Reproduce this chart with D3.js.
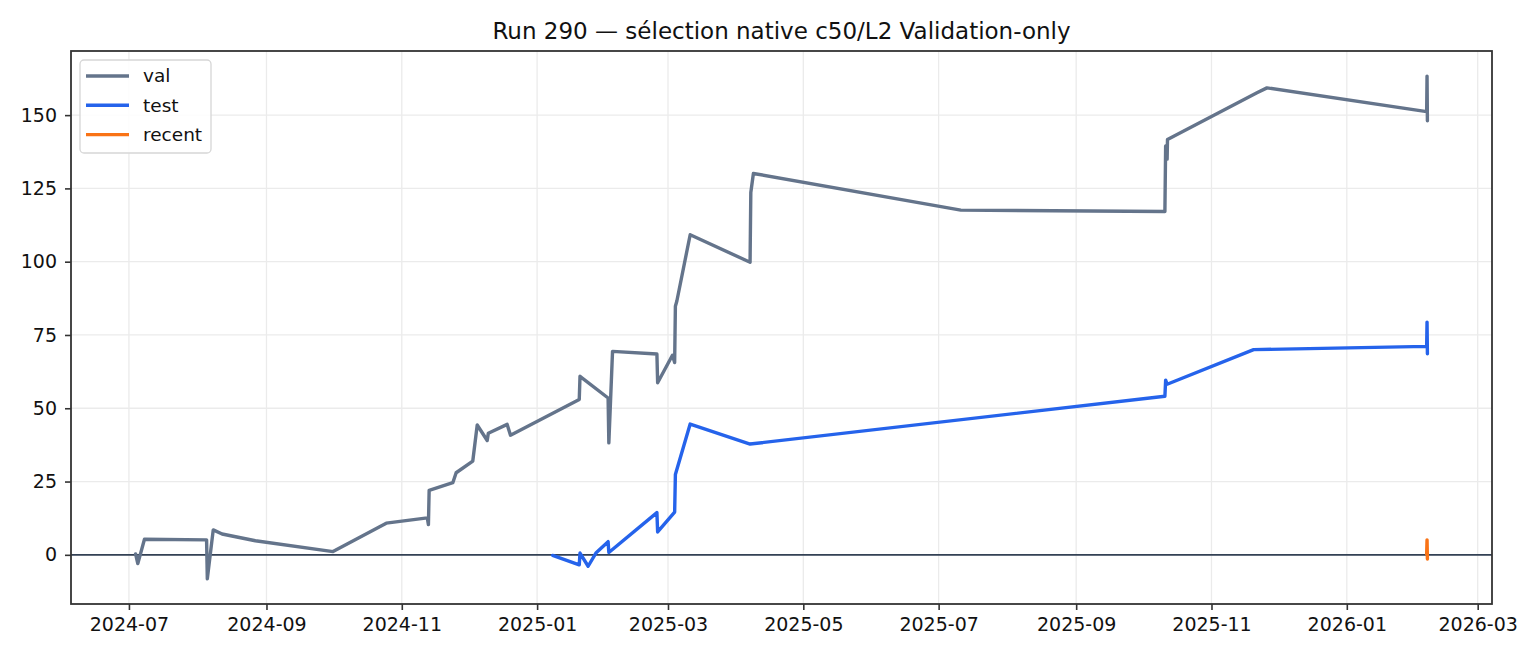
<!DOCTYPE html>
<html>
<head>
<meta charset="utf-8">
<script src="https://cdn.jsdelivr.net/npm/d3@7"></script>
<style>
  body { margin: 0; background: #fff; }
  svg { font-family: "DejaVu Sans", sans-serif; }
</style>
</head>
<body>
<svg id="chart"></svg>
<script>
// values
const valDates = [
  "2024-07-04T00:00", "2024-07-05T00:00", "2024-07-08T00:00", "2024-08-05T00:00", "2024-08-05T08:00",
  "2024-08-08T00:00", "2024-08-12T00:00", "2024-08-27T00:00", "2024-10-01T00:00", "2024-10-25T00:00",
  "2024-11-12T12:00", "2024-11-13T00:00", "2024-11-13T08:00", "2024-11-24T00:00", "2024-11-25T12:00",
  "2024-12-03T00:00", "2024-12-05T00:00", "2024-12-09T12:00", "2024-12-10T00:00", "2024-12-18T12:00",
  "2024-12-20T00:00", "2025-01-20T00:00", "2025-01-20T08:00", "2025-02-02T00:00", "2025-02-02T08:00",
  "2025-02-04T00:00", "2025-02-24T00:00", "2025-02-24T08:00", "2025-03-03T00:00", "2025-03-04T00:00",
  "2025-03-04T08:00", "2025-03-05T00:00", "2025-03-11T00:00", "2025-04-07T00:00", "2025-04-07T08:00",
  "2025-04-08T12:00", "2025-07-11T00:00", "2025-10-11T00:00", "2025-10-11T08:00", "2025-10-12T00:00",
  "2025-10-12T04:00", "2025-11-21T12:00", "2025-11-26T00:00", "2026-02-06T00:00", "2026-02-06T04:00",
  "2026-02-06T08:00"
];
const valValues = [
  0.3, -3.0, 5.3, 5.1, -8.2,
  8.5, 7.1, 4.8, 1.1, 10.8,
  12.6, 10.3, 22.0, 24.6, 28.0,
  32.0, 44.3, 39.0, 41.5, 44.5,
  40.8, 53.0, 60.9, 53.5, 38.2,
  69.4, 68.5, 58.7, 68.1, 65.6,
  84.8, 86.6, 109.2, 99.8, 123.6,
  130.1, 117.6, 117.1, 139.5, 135.0,
  141.7, 157.6, 159.3, 151.2, 163.3,
  148.1
];

const testDates = [
  "2025-01-08T00:00", "2025-01-20T00:00", "2025-01-20T08:00", "2025-01-24T00:00", "2025-01-27T12:00",
  "2025-02-02T00:00", "2025-02-02T08:00", "2025-02-24T00:00", "2025-02-24T08:00", "2025-03-04T00:00",
  "2025-03-04T08:00", "2025-03-11T00:00", "2025-04-07T00:00", "2025-10-11T00:00", "2025-10-11T08:00",
  "2025-10-12T00:00", "2025-11-20T00:00", "2026-02-06T00:00", "2026-02-06T04:00", "2026-02-06T08:00"
];
const testValues = [
  -0.2, -3.4, 0.6, -3.9, 0.6,
  4.5, 0.8, 14.4, 7.8, 14.6,
  27.4, 44.6, 37.8, 54.1, 59.6,
  58.2, 70.0, 71.1, 79.4, 68.6
];

const recentDates = ["2026-02-06T00:00", "2026-02-06T04:00", "2026-02-06T08:00"];
const recentValues = [0.2, 5.1, -1.4];

const yTicks = [0, 25, 50, 75, 100, 125, 150];
const xTickLabels = ["2024-07", "2024-09", "2024-11", "2025-01", "2025-03", "2025-05",
                     "2025-07", "2025-09", "2025-11", "2026-01", "2026-03"];

const seriesNames = ["val", "test", "recent"];
const seriesColors = ["#64748b", "#2563eb", "#f97316"];
const chartTitle = "Run 290 \u2014 s\u00e9lection native c50/L2 Validation-only";

const parse = d3.timeParse("%Y-%m-%dT%H:%M");
const parseMonth = d3.timeParse("%Y-%m");

const width = 1540, height = 658;
const margin = {top: 51, right: 48, bottom: 54, left: 71};
const inner_width = width - margin.left - margin.right;
const inner_height = height - margin.top - margin.bottom;

const series = [
  {name: seriesNames[0], color: seriesColors[0], dates: valDates, values: valValues},
  {name: seriesNames[1], color: seriesColors[1], dates: testDates, values: testValues},
  {name: seriesNames[2], color: seriesColors[2], dates: recentDates, values: recentValues}
].map(s => ({...s, points: s.dates.map((d, i) => ({date: parse(d), value: s.values[i]}))}));

const allPoints = series.flatMap(s => s.points);

const svg = d3.select("#chart")
  .attr("width", width)
  .attr("height", height);

const chart = svg.append("g")
  .attr("transform", `translate(${margin.left}, ${margin.top})`);

// matplotlib-style 5% padding on the data extent
const [t0, t1] = d3.extent(allPoints, d => d.date.getTime());
const tpad = (t1 - t0) * 0.05;
const xscale = d3.scaleTime()
  .domain([new Date(t0 - tpad), new Date(t1 + tpad)])
  .range([0, inner_width]);

const [v0, v1] = d3.extent(allPoints, d => d.value);
const vpad = (v1 - v0) * 0.05;
const yscale = d3.scaleLinear()
  .domain([v0 - vpad, v1 + vpad])
  .range([inner_height, 0]);

const xTickDates = xTickLabels.map(parseMonth);

// grid
chart.append("g").selectAll("line")
  .data(xTickDates)
  .join("line")
  .attr("x1", d => xscale(d)).attr("x2", d => xscale(d))
  .attr("y1", 0).attr("y2", inner_height)
  .attr("stroke", "#ebebeb").attr("stroke-width", 1.3);

chart.append("g").selectAll("line")
  .data(yTicks)
  .join("line")
  .attr("x1", 0).attr("x2", inner_width)
  .attr("y1", d => yscale(d)).attr("y2", d => yscale(d))
  .attr("stroke", "#ebebeb").attr("stroke-width", 1.3);

// zero line
chart.append("line")
  .attr("x1", 0).attr("x2", inner_width)
  .attr("y1", yscale(0)).attr("y2", yscale(0))
  .attr("stroke", "#334155").attr("stroke-width", 1.6);

// lines
const line = d3.line()
  .x(d => xscale(d.date))
  .y(d => yscale(d.value));

chart.append("g").selectAll("path")
  .data(series)
  .join("path")
  .attr("d", d => line(d.points))
  .attr("fill", "none")
  .attr("stroke", d => d.color)
  .attr("stroke-width", 3.4)
  .attr("stroke-linejoin", "round")
  .attr("stroke-linecap", "round");

// axes
const xaxis = d3.axisBottom(xscale)
  .tickValues(xTickDates)
  .tickFormat(d3.timeFormat("%Y-%m"))
  .tickSize(6)
  .tickPadding(8)
  .tickSizeOuter(0);

const yaxis = d3.axisLeft(yscale)
  .tickValues(yTicks)
  .tickSize(6)
  .tickPadding(8)
  .tickSizeOuter(0);

const xaxis_group = chart.append("g")
  .attr("transform", `translate(0, ${inner_height})`)
  .call(xaxis);

const yaxis_group = chart.append("g")
  .call(yaxis);

[xaxis_group, yaxis_group].forEach(g => {
  g.select(".domain").remove();
  g.selectAll(".tick line").attr("stroke", "#333").attr("stroke-width", 1.6);
  g.selectAll(".tick text")
    .attr("fill", "#111")
    .style("font-size", "19px")
    .style("font-family", "DejaVu Sans, sans-serif");
});

// frame
chart.append("rect")
  .attr("x", 0).attr("y", 0)
  .attr("width", inner_width).attr("height", inner_height)
  .attr("fill", "none")
  .attr("stroke", "#333")
  .attr("stroke-width", 1.8);

// title
svg.append("text")
  .attr("x", margin.left + inner_width / 2)
  .attr("y", 39)
  .attr("text-anchor", "middle")
  .attr("fill", "#111")
  .style("font-size", "23px")
  .text(chartTitle);

// legend
const legend = chart.append("g")
  .attr("transform", "translate(9, 9)");

legend.append("rect")
  .attr("width", 131).attr("height", 93)
  .attr("rx", 4)
  .attr("fill", "#fff")
  .attr("fill-opacity", 0.85)
  .attr("stroke", "#d6d6d6")
  .attr("stroke-width", 1.3);

const items = legend.selectAll(".item")
  .data(series)
  .join("g")
  .attr("class", "item")
  .attr("transform", (d, i) => `translate(0, ${16 + i * 29.3})`);

items.append("line")
  .attr("x1", 6).attr("x2", 49)
  .attr("stroke", d => d.color)
  .attr("stroke-width", 3.4);

items.append("text")
  .attr("x", 63)
  .attr("dy", "0.35em")
  .attr("fill", "#111")
  .style("font-size", "18.5px")
  .text(d => d.name);
</script>
</body>
</html>
